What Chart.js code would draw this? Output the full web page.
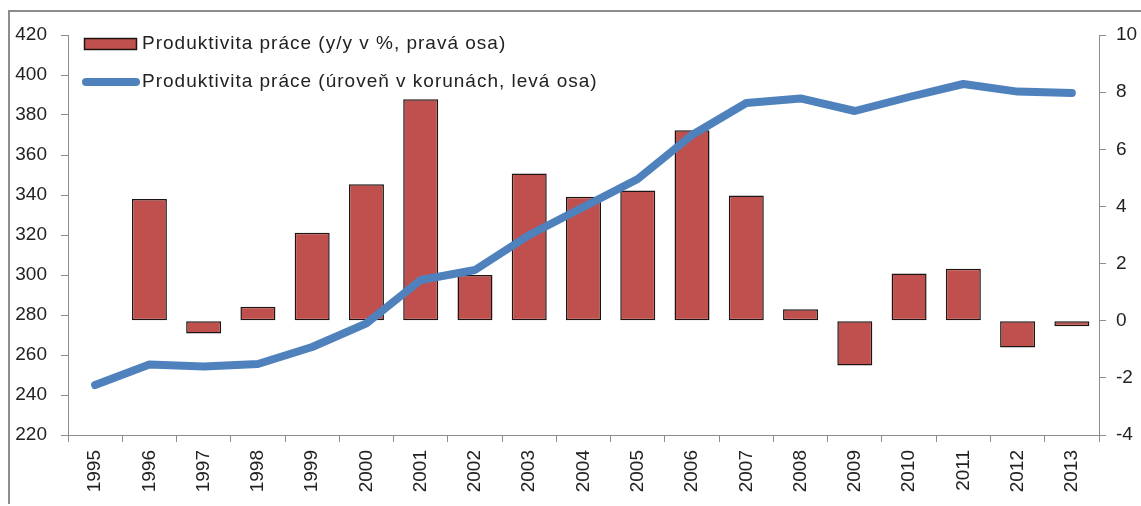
<!DOCTYPE html>
<html>
<head>
<meta charset="utf-8">
<script src="https://cdn.jsdelivr.net/npm/chart.js@4"></script>
<style>
  html, body { margin: 0; padding: 0; background: #fff; }
  #wrap { position: relative; width: 1141px; height: 506px; }
  #frame { position: absolute; left: 8px; top: 10px; width: 1200px; height: 494px;
           border-left: 2px solid #8c8c8c; border-top: 2px solid #8c8c8c; box-sizing: border-box; }
  canvas { position: absolute; left: 0; top: 0; }
</style>
</head>
<body>
<div id="wrap">
  <div id="frame"></div>
  <canvas id="chart" width="1141" height="506"></canvas>
</div>
<script>
const years = ['1995', '1996', '1997', '1998', '1999', '2000', '2001', '2002', '2003', '2004',
               '2005', '2006', '2007', '2008', '2009', '2010', '2011', '2012', '2013'];

// y/y growth in %, right axis
const growth = [null, 4.26, -0.45, 0.49, 3.08, 4.78, 7.75, 1.6, 5.15, 4.34,
                4.56, 6.67, 4.38, 0.40, -1.57, 1.65, 1.82, -0.94, -0.19];

// level in crowns, left axis
const level = [245, 255.3, 254.2, 255.5, 264, 275.8, 297.5, 302.5, 320, 334,
               348, 370, 386, 388.3, 382, 389, 395.5, 391.7, 391];

const leftTicks = [220, 240, 260, 280, 300, 320, 340, 360, 380, 400, 420];
const rightTicks = [-4, -2, 0, 2, 4, 6, 8, 10];

const labelBars = 'Produktivita práce (y/y v %, pravá osa)';
const labelLine = 'Produktivita práce (úroveň v korunách, levá osa)';

const FONT = 'Liberation Sans, Arial, sans-serif';
const axisGray = '#8c8c8c';
const textColor = '#222';

// legend sits inside the plot, top left, like the Excel original
const insideLegend = {
  id: 'insideLegend',
  afterDraw(chart) {
    const ctx = chart.ctx;
    const ds = chart.data.datasets;
    ctx.save();
    ctx.font = '19px ' + FONT;
    ctx.letterSpacing = '1px';
    ctx.textBaseline = 'middle';

    // bar item
    ctx.fillStyle = ds[0].backgroundColor;
    ctx.fillRect(84, 38, 52, 11);
    ctx.strokeStyle = ds[0].borderColor;
    ctx.lineWidth = 1.5;
    ctx.strokeRect(84.5, 38.5, 52, 11);
    ctx.fillStyle = textColor;
    ctx.fillText(ds[0].label, 142, 44);

    // line item
    ctx.strokeStyle = ds[1].borderColor;
    ctx.lineWidth = 8;
    ctx.lineCap = 'round';
    ctx.beginPath();
    ctx.moveTo(86, 82);
    ctx.lineTo(136, 82);
    ctx.stroke();
    ctx.fillText(ds[1].label, 142, 82);
    ctx.restore();
  }
};

new Chart(document.getElementById('chart'), {
  type: 'bar',
  data: {
    labels: years,
    datasets: [
      {
        type: 'bar',
        label: labelBars,
        data: growth,
        yAxisID: 'yRight',
        backgroundColor: '#C0504D',
        borderColor: '#1e1414',
        borderWidth: 1.5,
        borderSkipped: false,
        barPercentage: 0.645,
        categoryPercentage: 1,
        order: 2
      },
      {
        type: 'line',
        label: labelLine,
        data: level,
        yAxisID: 'yLeft',
        borderColor: '#4F81BD',
        borderWidth: 8,
        borderJoinStyle: 'round',
        borderCapStyle: 'round',
        pointRadius: 0,
        tension: 0,
        order: 1
      }
    ]
  },
  options: {
    responsive: false,
    animation: false,
    layout: { padding: { top: 35, left: 0, right: 0, bottom: 0 } },
    plugins: {
      legend: { display: false },
      title: { display: false },
      tooltip: { enabled: false }
    },
    scales: {
      x: {
        offset: true,
        grid: { offset: true, drawOnChartArea: false, drawTicks: true, tickLength: 7, color: axisGray },
        border: { display: true, color: axisGray, width: 1 },
        ticks: { font: { family: FONT, size: 19 }, color: textColor, minRotation: 90, maxRotation: 90, padding: 8 },
        afterFit(scale) { scale.height = 71; }
      },
      yLeft: {
        position: 'left',
        min: 220,
        max: 420,
        afterBuildTicks(scale) { scale.ticks = leftTicks.map(v => ({ value: v })); },
        grid: { drawOnChartArea: false, drawTicks: true, tickLength: 7, color: axisGray },
        border: { display: true, color: axisGray, width: 1 },
        ticks: { font: { family: FONT, size: 19 }, color: textColor, padding: 14 },
        afterFit(scale) { scale.width = 68; }
      },
      yRight: {
        position: 'right',
        min: -4,
        max: 10,
        afterBuildTicks(scale) { scale.ticks = rightTicks.map(v => ({ value: v })); },
        grid: { drawOnChartArea: false, drawTicks: true, tickLength: 7, color: axisGray },
        border: { display: true, color: axisGray, width: 1 },
        ticks: { font: { family: FONT, size: 19 }, color: textColor, padding: 10 },
        afterFit(scale) { scale.width = 42; }
      }
    }
  },
  plugins: [insideLegend]
});
</script>
</body>
</html>
